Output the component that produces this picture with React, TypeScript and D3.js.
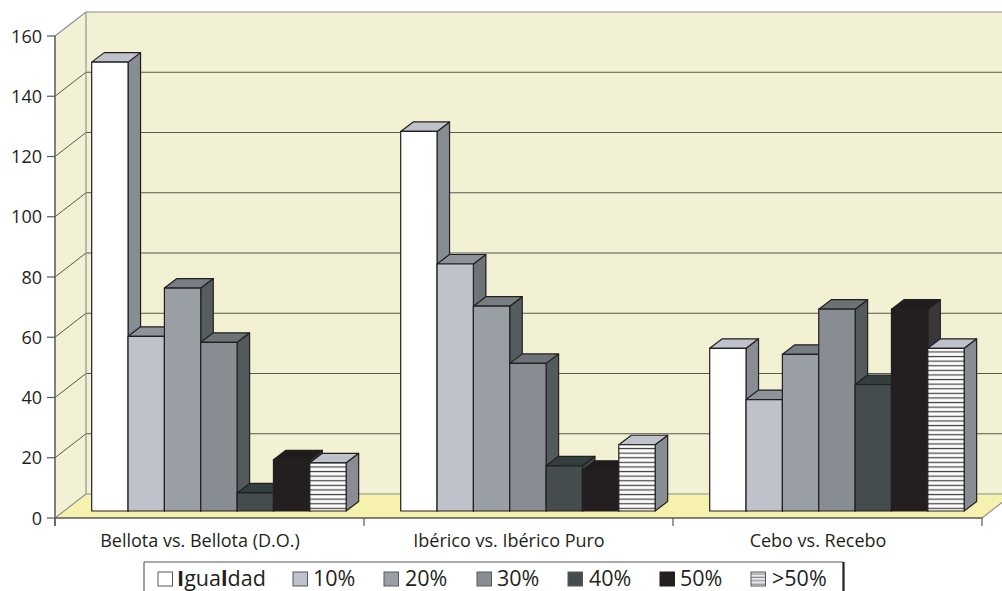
import React from "react";
import * as d3 from "d3";

// Categories, series and values of the 3D clustered column chart
const categories = ["Bellota vs. Bellota (D.O.)", "Ibérico vs. Ibérico Puro", "Cebo vs. Recebo"];
const seriesNames = ["Igualdad", "10%", "20%", "30%", "40%", "50%", ">50%"];
const bellotaValues = [149, 58, 74, 56, 6, 17, 16];
const ibericoValues = [126, 82, 68, 49, 15, 13.5, 22];
const ceboValues = [54, 37, 52, 67, 42, 67, 54];
const allValues = [bellotaValues, ibericoValues, ceboValues];
const yTicks = [0, 20, 40, 60, 80, 100, 120, 140, 160];

// Face colours per series: front, side, top
const frontColors = ["#ffffff", "#bfc2ca", "#9a9fa5", "#878d93", "#444c4e", "#231f20", "url(#stripes)"];
const sideColors = ["#878d93", "#6d7477", "#565d5f", "#525a5b", "#3f4748", "#39373a", "#878d93"];
const topColors = ["#bfc2ca", "#8e9399", "#787c83", "#6c7275", "#333f3e", "#1f1c1d", "#bfc2ca"];
const legendSwatchX = [158, 293, 384, 477, 568, 660, 751];
const legendTextX = [177, 313, 405, 497, 589, 680, 772];

const FONT = "'Open Sans', sans-serif";
const INK = "#231f20";
const WALL_DX = 31;
const WALL_DY = 24;
const BAR_INSET_DY = 7;
const BAR_DX = 12.5;
const BAR_DY = 9.5;

const y = d3.scaleLinear().domain([0, 160]).range([518, 36]);
const x = d3.scaleBand<string>().domain(categories).range([55, 982]).padding(0);
const inner = d3.scaleBand<number>().domain(d3.range(7)).range([36.7, 36.7 + 7 * 36.35]).padding(0);

const pts = (p: number[][]) => p.map((q) => q.join(",")).join(" ");

export default function App() {
  const [x0, x1] = x.range();
  const base = y(0);
  const top = y(160);
  const tickXs = [...categories.map((c) => x(c) as number), x1];

  return (
    <svg
      width={1002}
      height={591}
      viewBox="0 0 1002 591"
      style={{ position: "absolute", left: 0, top: 0, background: "#fff" }}
      fontFamily={FONT}
    >
      <defs>
        <pattern id="stripes" patternUnits="userSpaceOnUse" x={0} y={0} width={8} height={4.6}>
          <rect width={8} height={4.6} fill="#ffffff" />
          <rect y={1.7} width={8} height={1.3} fill="#4a4a4c" />
        </pattern>
        <pattern id="swatchStripes" patternUnits="userSpaceOnUse" x={0} y={572} width={8} height={3.4}>
          <rect width={8} height={3.4} fill="#e8e9ea" />
          <rect y={1.4} width={8} height={1.1} fill="#85888c" />
        </pattern>
      </defs>

      {/* Walls and floor */}
      <polygon
        points={pts([[x0, top], [x0 + WALL_DX, top - WALL_DY], [x0 + WALL_DX, base - WALL_DY], [x0, base]])}
        fill="#f3f1d3"
      />
      <polygon
        points={pts([[x0 + WALL_DX, top - WALL_DY], [x1 + WALL_DX, top - WALL_DY], [x1 + WALL_DX, base - WALL_DY], [x0 + WALL_DX, base - WALL_DY]])}
        fill="#f3f1d3"
      />
      <polygon
        points={pts([[x0, base], [x0 + WALL_DX, base - WALL_DY], [x1 + WALL_DX, base - WALL_DY], [x1, base]])}
        fill="#f6f1ad"
      />

      {/* Gridlines running along the side and back walls */}
      {yTicks.slice(1, -1).map((t) => (
        <polyline
          key={t}
          points={pts([[x0, y(t)], [x0 + WALL_DX, y(t) - WALL_DY], [1002, y(t) - WALL_DY]])}
          fill="none"
          stroke="#57574c"
          strokeWidth={1}
        />
      ))}
      <polyline
        points={pts([[x0, top], [x0 + WALL_DX, top - WALL_DY], [1002, top - WALL_DY]])}
        fill="none"
        stroke="#868d93"
        strokeWidth={1.1}
      />
      <line x1={x0 + WALL_DX} x2={x0 + WALL_DX} y1={top - WALL_DY} y2={base - WALL_DY} stroke="#868d93" strokeWidth={1.1} />
      <line x1={x0} x2={x0 + WALL_DX} y1={base} y2={base - WALL_DY} stroke="#868d93" strokeWidth={1.1} />
      <line x1={x0 + WALL_DX} x2={1002} y1={base - WALL_DY} y2={base - WALL_DY} stroke="#868d93" strokeWidth={1} />
      <line x1={x1} x2={x1 + WALL_DX} y1={base} y2={base - WALL_DY} stroke="#868d93" strokeWidth={1.1} />

      {/* Columns */}
      {categories.map((c, ci) =>
        allValues[ci].map((v, si) => {
          const left = (x(c) as number) + (inner(si) as number);
          const w = inner.bandwidth();
          const right = left + w;
          const yBase = y(0) - BAR_INSET_DY;
          const yTop = y(v) - BAR_INSET_DY;
          const stroke = { stroke: INK, strokeWidth: 1.2, strokeLinejoin: "round" as const };
          return (
            <g key={`${ci}-${si}`}>
              <polygon
                points={pts([[right, yTop], [right + BAR_DX, yTop - BAR_DY], [right + BAR_DX, yBase - BAR_DY], [right, yBase]])}
                fill={sideColors[si]}
                {...stroke}
              />
              <polygon
                points={pts([[left, yTop], [left + BAR_DX, yTop - BAR_DY], [right + BAR_DX, yTop - BAR_DY], [right, yTop]])}
                fill={topColors[si]}
                {...stroke}
              />
              <rect x={left} y={yTop} width={w} height={yBase - yTop} fill={frontColors[si]} {...stroke} />
            </g>
          );
        })
      )}

      {/* Value axis */}
      <line x1={x0} x2={x0} y1={top} y2={base + 8} stroke="#58595b" strokeWidth={1.5} />
      {yTicks.map((t) => (
        <g key={t}>
          <line x1={x0 - 8} x2={x0} y1={y(t)} y2={y(t)} stroke="#58595b" strokeWidth={1.2} />
          <text x={42} y={y(t) + 6.5} textAnchor="end" fontSize={18} fill={INK}>
            {t}
          </text>
        </g>
      ))}

      {/* Category axis */}
      <line x1={x0} x2={x1} y1={base} y2={base} stroke="#58595b" strokeWidth={1.5} />
      {tickXs.map((tx) => (
        <line key={tx} x1={tx} x2={tx} y1={base} y2={base + 8} stroke="#58595b" strokeWidth={1.2} />
      ))}
      {categories.map((c) => (
        <text
          key={c}
          x={(x(c) as number) + x.bandwidth() / 2 - 9.5}
          y={547}
          textAnchor="middle"
          fontSize={18}
          fill={INK}
        >
          {c}
        </text>
      ))}

      {/* Legend frame, open at the bottom */}
      <line x1={144} x2={144} y1={562} y2={591} stroke="#6d6e71" strokeWidth={1.3} />
      <line x1={144} x2={843} y1={562} y2={562} stroke="#58595b" strokeWidth={1.1} />
      <line x1={843.5} x2={843.5} y1={562} y2={591} stroke={INK} strokeWidth={2.2} />
      {seriesNames.map((s, i) => (
        <g key={s}>
          <rect
            x={legendSwatchX[i]}
            y={572}
            width={14.5}
            height={14}
            fill={i === 6 ? "url(#swatchStripes)" : frontColors[i]}
            stroke={i === 5 ? INK : "#58595b"}
            strokeWidth={1}
          />
          <text x={legendTextX[i]} y={586} fontSize={21.5} fill={INK}>
            {s.split("").map((ch, k) => (
              <tspan key={k} fontWeight={ch === "I" || ch === "l" ? 700 : 400}>
                {ch}
              </tspan>
            ))}
          </text>
        </g>
      ))}
    </svg>
  );
}
